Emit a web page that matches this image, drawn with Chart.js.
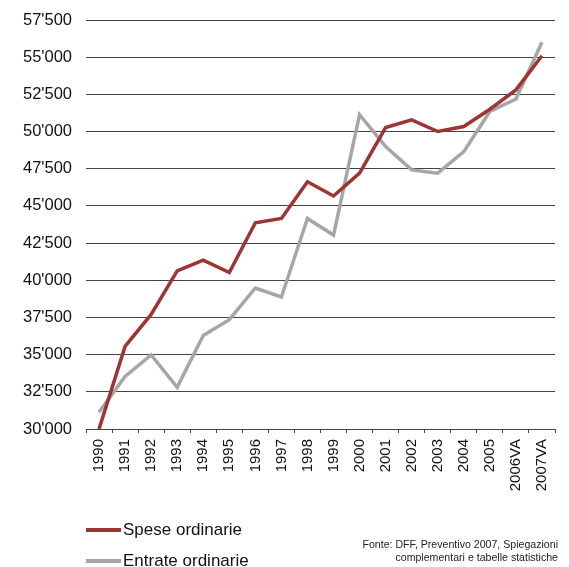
<!DOCTYPE html>
<html>
<head>
<meta charset="utf-8">
<script src="https://cdn.jsdelivr.net/npm/chart.js@4.4.1/dist/chart.umd.min.js"></script>
<style>
  html, body { margin: 0; padding: 0; background: #fff; }
  #wrap { position: relative; width: 569px; height: 567px; font-family: "Liberation Sans", Arial, sans-serif; overflow: hidden; }
  canvas { position: absolute; left: 0; top: 0; }
  .leg { position: absolute; left: 86px; font-size: 17px; color: #111; line-height: 20px; white-space: nowrap; }
  .leg span.sw { display: inline-block; width: 35px; height: 4px; vertical-align: middle; margin-right: 2px; position: relative; top: -1px; }
  .src { position: absolute; right: 11px; top: 538px; font-size: 10.6px; line-height: 13px; color: #222; text-align: right; white-space: nowrap; }
</style>
</head>
<body>
<div id="wrap">
  <canvas id="c" width="569" height="567"></canvas>
  <div class="leg" style="top:520px;"><span class="sw" style="background:#9E3434"></span>Spese ordinarie</div>
  <div class="leg" style="top:551px;"><span class="sw" style="background:#A6A6A6"></span>Entrate ordinarie</div>
  <div class="src">Fonte: DFF, Preventivo 2007, Spiegazioni<br>complementari e tabelle statistiche</div>
</div>
<script>
const categories = ["1990","1991","1992","1993","1994","1995","1996","1997","1998","1999","2000","2001","2002","2003","2004","2005","2006VA","2007VA"];
const speseOrdinarie = [30000, 35550, 37700, 40630, 41350, 40520, 43870, 44160, 46630, 45670, 47200, 50270, 50790, 50000, 50340, 51500, 52800, 55100];
const entrateOrdinarie = [31120, 33530, 34980, 32800, 36290, 37350, 39480, 38880, 44160, 43040, 51130, 48990, 47420, 47200, 48650, 51350, 52190, 56000];
const yTicks = { min: 30000, max: 57500, step: 2500 };

function fmt(v) {
  const th = Math.floor(v / 1000);
  const r = String(Math.round(v % 1000)).padStart(3, "0");
  return th + "'" + r;
}

new Chart(document.getElementById("c"), {
  type: "line",
  data: {
    labels: categories,
    datasets: [
      { label: "Spese ordinarie", data: speseOrdinarie, borderColor: "#9E3434", backgroundColor: "#9E3434", borderWidth: 3.5, pointRadius: 0, tension: 0 },
      { label: "Entrate ordinarie", data: entrateOrdinarie, borderColor: "#A6A6A6", backgroundColor: "#A6A6A6", borderWidth: 3.5, pointRadius: 0, tension: 0 }
    ]
  },
  options: {
    responsive: false,
    animation: false,
    devicePixelRatio: 1,
    layout: { padding: { top: 20, right: 14, left: 0, bottom: 0 } },
    plugins: { legend: { display: false }, tooltip: { enabled: false } },
    scales: {
      x: {
        offset: true,
        grid: { drawOnChartArea: false, drawTicks: true, tickLength: 4, color: "#444", offset: true },
        border: { display: true, color: "#444", width: 1 },
        ticks: { minRotation: 90, maxRotation: 90, padding: 6, color: "#111", font: { family: "Liberation Sans", size: 15 }, autoSkip: false },
        afterFit: (s) => { s.height = 138; s.paddingLeft = 0; s.paddingRight = 0; }
      },
      y: {
        min: yTicks.min, max: yTicks.max,
        grid: { drawTicks: false, color: "#444", lineWidth: 1 },
        border: { display: false },
        ticks: { stepSize: yTicks.step, padding: 14, color: "#111", font: { family: "Liberation Sans", size: 16.5 }, callback: (v) => fmt(v) },
        afterFit: (s) => { s.width = 86; s.paddingTop = 0; s.paddingBottom = 0; }
      }
    }
  }
});
</script>
</body>
</html>
